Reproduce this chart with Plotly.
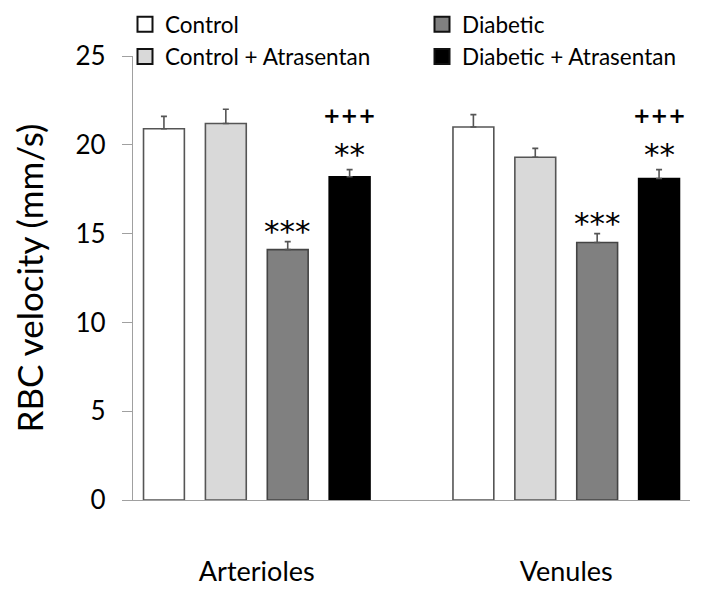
import plotly.graph_objects as go

categories = ["Arterioles", "Venules"]
series_names = ["Control", "Control + Atrasentan", "Diabetic", "Diabetic + Atrasentan"]
control = [20.9, 21.0]
control_atr = [21.2, 19.3]
diabetic = [14.1, 14.5]
diabetic_atr = [18.2, 18.1]
err_control = [0.7, 0.7]
err_control_atr = [0.8, 0.5]
err_diabetic = [0.45, 0.5]
err_diabetic_atr = [0.4, 0.5]
y_ticks = [0, 5, 10, 15, 20, 25]

# significance marks: (category index, bar slot, label, y value)
marks = [
    (0, 2, "***", 15.4), (0, 3, "**", 19.7), (0, 3, "+++", 21.6),
    (1, 2, "***", 15.8), (1, 3, "**", 19.7), (1, 3, "+++", 21.6),
]

values = [control, control_atr, diabetic, diabetic_atr]
errors = [err_control, err_control_atr, err_diabetic, err_diabetic_atr]
colors = ["#ffffff", "#d9d9d9", "#808080", "#000000"]
edge_colors = ["#555555", "#555555", "#444444", "#000000"]
legends = ["legend", "legend", "legend2", "legend2"]

FONT = "Lato"
# page body has an 8px default margin; figure is sized to fit the window
W, H = 694, 586
L, R, T, B = 125, 12, 48, 94
pw, ph = W - L - R, H - T - B

fig = go.Figure()
for name, v, e, c, ec in zip(series_names, values, errors, colors, edge_colors):
    fig.add_trace(go.Bar(
        x=categories, y=v, name=name, showlegend=False,
        marker=dict(color=c, line=dict(color=ec, width=1.6)),
        error_y=dict(type="data", symmetric=False, array=e, arrayminus=[0] * len(e),
                     color="#555555", thickness=1.6, width=3),
    ))

# legend-only entries (square swatches)
for name, c, lg in zip(series_names, colors, legends):
    fig.add_trace(go.Scatter(
        x=[None], y=[None], mode="markers", name=name, legend=lg,
        marker=dict(symbol="square", size=15, color=c, line=dict(color="#111111", width=2)),
    ))

slot_offsets = [-0.3, -0.1, 0.1, 0.3]
for ci, slot, label, yv in marks:
    if label == "+++":
        font = dict(family="DejaVu Sans", size=21, color="black", weight="bold")
        shift = 0
    else:
        font = dict(family="DejaVu Sans", size=31, color="black")
        shift = -4
    fig.add_annotation(
        x=ci + slot_offsets[slot], y=yv, xref="x", yref="y", text=label,
        showarrow=False, yanchor="middle", yshift=shift, font=font,
    )

leg_common = dict(yanchor="top", xanchor="left", font=dict(size=22.5, family=FONT),
                  bgcolor="rgba(0,0,0,0)", traceorder="normal", tracegroupgap=0,
                  orientation="v", itemsizing="trace")
fig.update_layout(
    width=W, height=H,
    margin=dict(l=L, r=R, t=T, b=B, autoexpand=False),
    plot_bgcolor="white", paper_bgcolor="white",
    barmode="group", bargap=0.2, bargroupgap=0.34,
    font=dict(family=FONT, color="black"),
    showlegend=True,
    legend=dict(x=-8 / pw, y=497 / ph, **leg_common),
    legend2=dict(x=289 / pw, y=497 / ph, **leg_common),
)
fig.update_xaxes(
    type="category", range=[-0.4, 1.4], showline=True, linecolor="#a0a0a0", linewidth=1.2,
    ticks="", tickfont=dict(size=27, family=FONT), ticklabelstandoff=47,
)
fig.update_yaxes(
    range=[0, 25], tickvals=y_ticks, showgrid=False, zeroline=False,
    showline=True, linecolor="#a0a0a0", linewidth=1.2,
    ticks="outside", ticklen=10, tickcolor="#a0a0a0", tickwidth=1.2,
    tickfont=dict(size=26, family=FONT), ticklabelstandoff=11,
    title=dict(text="RBC velocity (mm/s)", font=dict(size=35, family=FONT), standoff=30),
)
fig.write_html("out.html")
